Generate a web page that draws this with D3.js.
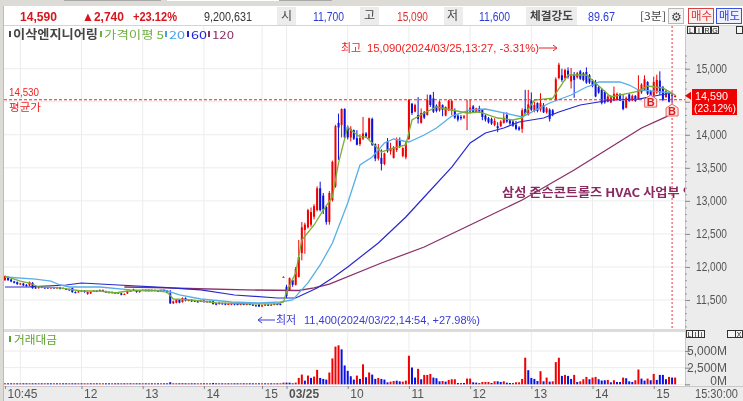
<!DOCTYPE html>
<html>
<head>
<meta charset="utf-8" />
<script src="https://cdn.jsdelivr.net/npm/d3@7"></script>
<style>
	html, body { margin: 0; padding: 0; background: #fff; overflow: hidden; }
	svg { display: block; filter: blur(0.35px); }
	text { font-family: "Liberation Sans", "Noto Sans CJK KR", sans-serif; }
	.kr { font-family: "Noto Sans CJK KR", sans-serif; }
</style>
</head>
<body>
<div id="wrapper"></div>
<script>
// candles, 3 minute bars, 03/22 10:45 to 03/25 15:18
const open = [
	11800,11850,11810,11780,11770,11740,11750,11730,11720,11760,
	11690,11680,11700,11690,11690,11680,11690,11680,11690,11680,
	11670,11660,11680,11620,11620,11630,11640,11590,11600,11630,
	11640,11650,11640,11630,11620,11620,11610,11600,11600,11590,
	11600,11640,11660,11640,11620,11650,11650,11640,11650,11640,
	11640,11640,11650,11640,11600,11450,11460,11500,11470,11530,
	11490,11500,11490,11480,11480,11490,11470,11470,11480,11450,
	11440,11450,11450,11440,11430,11450,11440,11430,11440,11430,
	11440,11430,11420,11430,11400,11420,11430,11420,11430,11440,11440,11850,
	11700,11650,11800,11730,11850,12210,12560,12600,
	12640,12760,12860,13190,13080,12910,12680,13010,13220,14180,
	14150,14390,14120,13960,14070,13950,13860,13940,14020,13950,
	14240,13860,13640,13650,13560,13900,13750,13650,13770,13920,
	13680,13660,13940,14470,14350,14300,14180,14340,14300,14600,
	14550,14440,14370,14450,14290,14370,14360,14370,14290,14270,
	14260,14330,14350,14430,14340,14400,14380,14290,14250,14240,
	14150,14130,14130,14180,14300,14220,14200,14150,14110,14090,
	14390,14300,14520,14360,14480,14380,14450,14340,14380,14370,
	14530,14860,14900,14860,14970,14810,14910,14870,14960,14930,
	14950,14900,14820,14800,14720,14680,14650,14500,14490,14520,
	14530,14610,14510,14410,14610,14520,14590,14540,14640,14670,
	14800,14660,14600,14640,14820,14720,14570,14640,14600,14570,
];
const close = [
	11860,11800,11780,11760,11740,11750,11720,11710,11770,11680,
	11680,11700,11690,11680,11680,11690,11680,11690,11670,11680,
	11660,11650,11620,11610,11630,11640,11620,11620,11620,11640,
	11630,11640,11650,11620,11610,11610,11600,11610,11580,11590,
	11630,11640,11650,11620,11640,11650,11640,11650,11640,11650,
	11630,11650,11640,11610,11450,11480,11500,11460,11530,11490,
	11500,11480,11480,11470,11490,11470,11480,11480,11440,11430,
	11460,11440,11430,11440,11450,11430,11430,11440,11430,11440,
	11430,11420,11410,11400,11420,11430,11420,11430,11440,11430,11430,11850,
	11560,11830,11730,11970,12150,12600,12640,12860,
	12830,12920,13190,12860,12870,12680,13120,13590,14130,14110,
	14390,13960,13960,14090,13940,13850,13950,14020,13970,14250,
	13850,13640,13770,13560,13720,13750,13800,13810,13920,13830,
	13800,13870,14530,14330,14450,14240,14330,14260,14530,14450,
	14350,14360,14500,14380,14420,14520,14510,14260,14230,14250,
	14280,14360,14410,14340,14400,14350,14270,14230,14190,14170,
	14210,14100,14200,14260,14200,14170,14140,14090,14080,14370,
	14320,14460,14380,14450,14360,14480,14340,14400,14240,14300,
	14840,15060,14830,14980,14880,14900,14830,14930,14850,14830,
	14790,14790,14740,14580,14640,14480,14490,14580,14580,14620,
	14620,14520,14390,14560,14510,14590,14510,14690,14760,14840,
	14620,14530,14800,14830,14640,14530,14660,14500,14590,14590,
];
const high = [
	11870,11860,11820,11790,11780,11760,11760,11740,11780,11770,
	11700,11710,11710,11700,11700,11700,11700,11700,11700,11690,
	11680,11670,11690,11630,11640,11650,11650,11630,11630,11650,
	11650,11660,11660,11640,11630,11630,11620,11620,11610,11600,
	11640,11650,11670,11650,11650,11660,11660,11660,11660,11660,
	11650,11660,11660,11650,11650,11490,11510,11510,11540,11540,
	11510,11510,11500,11490,11500,11500,11490,11490,11490,11460,
	11470,11460,11460,11450,11460,11460,11450,11450,11450,11450,
	11450,11440,11430,11440,11430,11440,11440,11440,11450,11450,11450,11860,
	11730,11840,11810,12000,12410,12680,12670,12880,
	12900,12950,13220,13290,13120,12930,13150,13610,14150,14320,
	14400,14400,14140,14130,14080,14070,14010,14270,14040,14260,
	14260,13870,13860,13780,13730,13950,13880,13830,13960,13960,
	13810,13900,14540,14480,14470,14570,14400,14360,14610,14610,
	14650,14460,14520,14460,14430,14530,14530,14400,14310,14300,
	14300,14530,14530,14450,14410,14440,14390,14310,14270,14260,
	14250,14190,14220,14340,14340,14240,14220,14210,14130,14400,
	14680,14680,14640,14500,14490,14630,14480,14420,14400,14390,
	14870,15090,15000,15000,15020,15010,14950,14950,14980,14950,
	15020,14920,14840,14830,14740,14700,14670,14600,14600,14730,
	14640,14630,14600,14580,14630,14610,14600,14900,14780,14900,
	14810,14680,14880,14910,14960,14740,14680,14660,14640,14600,
];
const low = [
	11790,11790,11770,11750,11730,11730,11710,11700,11710,11670,
	11670,11670,11680,11670,11670,11670,11670,11670,11660,11670,
	11650,11640,11610,11600,11610,11620,11610,11580,11590,11620,
	11620,11630,11630,11610,11600,11600,11590,11590,11570,11580,
	11590,11630,11640,11610,11610,11640,11630,11630,11630,11630,
	11620,11630,11630,11600,11440,11440,11450,11450,11460,11480,
	11480,11470,11470,11460,11470,11460,11460,11460,11430,11420,
	11430,11430,11420,11430,11420,11420,11420,11420,11420,11420,
	11420,11410,11400,11400,11400,11410,11410,11410,11420,11420,11420,11850,
	11530,11640,11700,11720,11840,12100,12200,12580,
	12610,12720,12840,12840,12800,12640,12640,12990,13200,13620,
	13960,13950,13930,13900,13920,13840,13830,13920,13950,13930,
	13830,13600,13610,13460,13540,13730,13700,13640,13740,13800,
	13660,13630,13920,14300,14340,14170,14170,14240,14290,14420,
	14330,14340,14350,14280,14280,14360,14300,14240,14200,14220,
	14240,14070,14320,14330,14330,14330,14220,14200,14170,14150,
	14130,14040,14120,14170,14180,14150,14120,14070,14060,14030,
	14310,14290,14360,14340,14340,14350,14330,14320,14200,14280,
	14510,14840,14800,14820,14850,14700,14560,14850,14830,14810,
	14770,14770,14720,14570,14620,14460,14470,14490,14480,14510,
	14520,14510,14370,14400,14500,14510,14500,14530,14620,14660,
	14600,14510,14580,14620,14600,14510,14560,14490,14490,14570,
];

// trading value in million won
const tradeValue = [
	70,90,80,60,70,90,80,70,60,100,
	90,70,60,80,70,90,60,70,80,60,
	70,60,100,80,70,60,80,70,90,60,
	70,80,60,70,90,60,70,60,80,70,
	90,70,60,80,70,60,90,70,60,80,
	70,60,90,110,300,120,90,110,180,80,
	70,60,80,70,60,90,70,80,200,90,
	70,60,80,70,90,60,70,60,80,70,
	60,90,70,120,80,70,60,80,70,90,
	150,250,250,250,150,250,960,1460,550,1310,
	960,1160,2170,960,810,710,1770,3890,5660,5860,
	5250,2830,2020,1210,710,1310,810,3000,1060,1770,
	1460,810,960,810,710,300,400,500,550,450,
	400,550,4290,2520,1010,2320,760,1410,1410,1560,
	1010,910,450,500,400,660,760,760,200,200,
	200,860,860,300,250,200,350,350,350,200,
	450,450,350,450,250,200,200,300,300,810,
	3990,2120,960,810,500,1970,450,1010,400,450,
	3330,3990,1260,1410,1260,810,1410,350,450,760,
	1110,760,1010,1110,760,560,610,660,300,610,
	350,350,1010,910,450,350,610,2220,860,560,
	860,610,1560,660,1410,1410,760,1110,1010,1010,
];
// 1 = red bar, 0 = blue bar
const tradeUp = [
	1,0,0,1,0,1,0,0,1,0,
	0,1,0,1,0,0,1,0,1,0,
	0,1,0,0,1,0,1,1,0,1,
	0,1,1,0,0,1,0,0,1,0,
	1,0,1,0,0,1,0,1,0,1,
	0,1,0,0,0,1,1,0,1,0,
	1,0,0,1,1,0,1,1,0,0,
	1,0,1,0,1,0,0,1,0,1,
	0,0,1,0,1,0,1,0,1,0,
	1,1,0,0,0,1,1,1,0,1,
	0,1,1,0,0,0,1,1,1,1,
	0,0,0,0,0,1,0,1,0,1,
	0,0,1,0,0,0,1,1,0,0,
	1,1,1,0,0,1,0,1,1,1,
	0,0,0,1,0,1,1,1,0,1,
	0,1,1,0,0,1,1,1,1,0,
	1,0,0,1,0,0,1,1,1,1,
	1,0,0,0,0,1,0,1,0,1,
	1,1,0,1,0,0,1,0,1,1,
	1,0,1,1,0,0,0,1,0,1,
	0,0,1,0,0,0,1,1,0,0,
	1,0,1,0,0,0,0,1,0,1,
];

// moving averages, read at the bends of each line
const ma5Index = [0,5,8,11,18,25,31,36,40,47,53,55,61,69,80,89,91,92,95,97,101,104,107,109,112,113,116,118,120,123,127,131,133,137,141,146,151,155,161,166,169,173,179,184,190,193,198,204,207,210,215,219];
const ma5 = [11860,11785,11757,11697,11682,11636,11636,11606,11636,11652,11621,11515,11500,11455,11440,11440,11470,11620,11910,12408,12635,12860,13060,13575,14120,14073,13967,13967,13876,13740,13800,13846,14224,14330,14420,14375,14330,14345,14254,14224,14254,14526,14556,14905,14905,14784,14572,14632,14662,14738,14708,14602];
const ma20Index = [0,10,15,18,21,31,41,47,52,57,64,74,83,90,94,99,103,107,112,116,120,124,127,132,137,141,146,152,157,163,169,178,185,190,192,194,201,204,207,212,218];
const ma20 = [11848,11817,11787,11727,11697,11697,11652,11636,11652,11576,11515,11470,11455,11470,11500,11758,12030,12363,12968,13543,13664,13876,13936,13891,13997,14103,14284,14375,14390,14330,14270,14481,14602,14723,14753,14799,14799,14753,14678,14662,14632];
const ma60Index = [0,8,20,25,37,53,64,75,89,95,102,107,112,122,131,137,146,152,157,163,168,176,181,188,192,198,207,214,218];
const ma60 = [11697,11700,11727,11757,11727,11686,11652,11576,11530,11530,11682,11833,12000,12363,12756,13059,13512,13876,14027,14103,14194,14254,14345,14451,14481,14526,14541,14602,14632];
const ma120Index = [39,53,60,79,96,101,106,123,137,152,169,186,208,216,217];
const ma120 = [11697,11682,11674,11652,11644,11682,11742,12060,12302,12635,13013,13467,14103,14270,14300];

// axes
const priceTicks = [11500,12000,12500,13000,13500,14000,14500,15000];
const priceMinorTicks = d3.range(11100, 15300, 100);
const valueTicks = [0,2500,5000];
const timeTickIndex = [0,25,45,65,84,92,112,132,152,172,192,212];
const timeTickLabels = ["10:45","12","13","14","15","03/25","10","11","12","13","14","15"];
const timeGridIndex = [5,25,45,65,84,92,112,132,152,172,192,212];

// fixed values from the chart
const avgPrice = 14530;
const lastPrice = 14590;
const lastIndex = 218;
const buyIndex = [211,218];
const buyPrice = [14510,14375];

const drawChart = () => {
	// 1. Dimensions
	const dimensions = {
		width: 743,
		height: 401,
		left: 4,
		plotRight: 685,
		priceTop: 26,
		priceBottom: 328,
		valueTop: 332,
		valueBottom: 386,
	};
	const red = "#f00000";
	const blue = "#0a10e0";

	// 2. Scales
	const xScale = d3.scaleLinear().domain([0, 219]).range([5, 675.14]);
	const yScale = d3.scaleLinear().domain([11500, 15000]).range([300, 68.7]);
	const vScale = d3.scaleLinear().domain([0, 5000]).range([384.3, 351]);

	const svg = d3
		.select("#wrapper")
		.append("svg")
		.attr("width", dimensions.width)
		.attr("height", dimensions.height);

	const addText = (str, x, y, opts = {}) => {
		const t = svg
			.append("text")
			.attr("x", x)
			.attr("y", y)
			.attr("font-size", opts.size || 12)
			.attr("fill", opts.color || "#333")
			.attr("font-weight", opts.weight || "normal")
			.attr("text-anchor", opts.anchor || "start")
			.text(str);
		if (opts.kr) t.attr("class", "kr");
		if (opts.len) t.attr("textLength", opts.len).attr("lengthAdjust", "spacingAndGlyphs");
		return t;
	};
	const addBox = (x, y, w, h, fill, stroke) =>
		svg
			.append("rect")
			.attr("x", x)
			.attr("y", y)
			.attr("width", w)
			.attr("height", h)
			.attr("fill", fill)
			.attr("stroke", stroke || "none");

	// 3. Window chrome
	addBox(0, 0, 743, 401, "#fff");
	addBox(0, 0, 743, 6, "#dcdbd6");
	addBox(64, 0, 97, 1, "#a8a8a8");
	addBox(167, 0, 112, 1, "#fff");
	addBox(279, 0, 53, 1, "#a8a8a8");
	addBox(0, 0, 3, 401, "#dcdbd6");
	addBox(3, 6, 1, 395, "#bcbcbc");
	addBox(4, 25, 739, 1, "#d4d4d4");
	addBox(dimensions.plotRight, 26, 58, 375, "#ececec");
	addBox(dimensions.plotRight, 26, 1, 375, "#c8c8c8");
	addBox(4, 329, 681, 3, "#dcdcdc");
	addBox(4, 386, 739, 15, "#ececec");
	addBox(4, 386, 739, 1, "#c8c8c8");

	// header row
	addText("14,590", 20, 21, { size: 13, color: "#d8141c", weight: "bold", len: 37 });
	addText("▲2,740", 82, 21, { size: 13, color: "#d8141c", weight: "bold", len: 42 });
	addText("+23.12%", 133, 21, { size: 13, color: "#d8141c", weight: "bold", len: 44 });
	addText("9,200,631", 204, 21, { size: 12, color: "#333", len: 48 });
	addBox(277, 7, 19, 18, "#ececec");
	addText("시", 281, 20, { size: 12, kr: true, color: "#444" });
	addText("11,700", 313, 21, { size: 12, color: "#2a3cd8", len: 31 });
	addBox(360, 7, 19, 18, "#ececec");
	addText("고", 364, 20, { size: 12, kr: true, color: "#444" });
	addText("15,090", 397, 21, { size: 12, color: "#e03030", len: 31 });
	addBox(444, 7, 19, 18, "#ececec");
	addText("저", 447, 20, { size: 12, kr: true, color: "#444" });
	addText("11,600", 479, 21, { size: 12, color: "#2a3cd8", len: 31 });
	addBox(526, 7, 51, 18, "#ececec");
	addText("체결강도", 530, 20, { size: 11, kr: true, color: "#444", weight: "bold", len: 43 });
	addText("89.67", 588, 21, { size: 12, color: "#2a3cd8", len: 27 });
	addText("[3분]", 640, 20, { size: 11, kr: true, color: "#444", len: 26 });
	addBox(668.5, 8.5, 15, 15, "#f4f4f4", "#b8b8b8");
	addText("⚙", 670.5, 20.5, { size: 12, color: "#444" });
	addBox(688.5, 8.5, 25, 15, "#fdf0ef", "#d84040");
	addText("매수", 691, 20, { size: 11, kr: true, color: "#e03030", len: 21 });
	addBox(716.5, 8.5, 25, 15, "#eef0fd", "#3a50e0");
	addText("매도", 719, 20, { size: 11, kr: true, color: "#3040e0", len: 21 });

	// 4. Grid
	const grid = svg.append("g").attr("stroke", "#ececec").attr("stroke-width", 1);
	grid
		.selectAll(".hp")
		.data(priceTicks)
		.join("line")
		.attr("x1", dimensions.left)
		.attr("x2", dimensions.plotRight)
		.attr("y1", (d) => yScale(d))
		.attr("y2", (d) => yScale(d));
	grid
		.selectAll(".hv")
		.data(valueTicks)
		.join("line")
		.attr("x1", dimensions.left)
		.attr("x2", dimensions.plotRight)
		.attr("y1", (d) => vScale(d))
		.attr("y2", (d) => vScale(d));
	grid
		.selectAll(".vt")
		.data(timeGridIndex)
		.join("line")
		.attr("x1", (d) => xScale(d))
		.attr("x2", (d) => xScale(d))
		.attr("y1", dimensions.priceTop)
		.attr("y2", dimensions.priceBottom);
	grid
		.selectAll(".vb")
		.data(timeGridIndex)
		.join("line")
		.attr("x1", (d) => xScale(d))
		.attr("x2", (d) => xScale(d))
		.attr("y1", dimensions.valueTop)
		.attr("y2", dimensions.valueBottom);

	// 5. Axes
	const priceAxis = d3
		.axisRight(yScale)
		.tickValues(priceTicks)
		.tickSize(5)
		.tickFormat((d) => (d === 14500 ? "" : d3.format(",")(d))); // 14,500 sits under the price tag
	const priceG = svg
		.append("g")
		.attr("transform", `translate(${dimensions.plotRight}, 0)`)
		.call(priceAxis);
	priceG.select(".domain").remove();
	priceG.selectAll("line").attr("stroke", "#888");
	priceG
		.selectAll("text")
		.filter((d) => d !== 14500)
		.attr("x", 11)
		.attr("font-size", 12)
		.attr("fill", "#555")
		.attr("textLength", 31)
		.attr("lengthAdjust", "spacingAndGlyphs")
		.attr("font-family", "Liberation Sans");

	const minorAxis = d3.axisRight(yScale).tickValues(priceMinorTicks).tickSize(2).tickFormat("");
	const minorG = svg
		.append("g")
		.attr("transform", `translate(${dimensions.plotRight}, 0)`)
		.call(minorAxis);
	minorG.select(".domain").remove();
	minorG.selectAll("line").attr("stroke", "#999");

	const valueAxis = d3
		.axisRight(vScale)
		.tickValues(valueTicks)
		.tickSize(5)
		.tickFormat((d) => `${d3.format(",")(d)}M`);
	const valueG = svg
		.append("g")
		.attr("transform", `translate(${dimensions.plotRight}, 0)`)
		.call(valueAxis);
	valueG.select(".domain").remove();
	valueG.selectAll("line").attr("stroke", "#888");
	valueG
		.selectAll("text")
		.attr("x", 42)
		.attr("text-anchor", "end")
		.attr("y", (d) => (d === 0 ? -4 : 0))
		.attr("font-size", 12)
		.attr("fill", "#555")
		.attr("font-family", "Liberation Sans");

	const timeAxis = d3
		.axisBottom(xScale)
		.tickValues(timeTickIndex)
		.tickSize(3)
		.tickFormat((d, i) => timeTickLabels[i]);
	const timeG = svg
		.append("g")
		.attr("transform", `translate(0, ${dimensions.valueBottom})`)
		.call(timeAxis);
	timeG.select(".domain").remove();
	timeG.selectAll("line").attr("stroke", "#888");
	timeG
		.selectAll("text")
		.attr("text-anchor", "start")
		.attr("x", 2)
		.attr("y", 3)
		.attr("font-size", 12)
		.attr("fill", "#555")
		.attr("font-weight", (d, i) => (timeTickLabels[i] === "03/25" ? "bold" : "normal"))
		.attr("font-family", "Liberation Sans");
	addText("15:30:00", 695, 398, { size: 12, color: "#555", len: 43 });

	// 6. Candles
	const candles = svg.append("g");
	const index = d3.range(open.length);
	const candleColor = (i) => (close[i] >= open[i] ? red : blue);
	candles
		.selectAll(".wick")
		.data(index)
		.join("line")
		.attr("x1", (i) => xScale(i))
		.attr("x2", (i) => xScale(i))
		.attr("y1", (i) => yScale(high[i]))
		.attr("y2", (i) => yScale(low[i]))
		.attr("stroke", candleColor)
		.attr("stroke-width", 1);
	candles
		.selectAll(".body")
		.data(index)
		.join("rect")
		.attr("x", (i) => xScale(i) - 1)
		.attr("width", 2)
		.attr("y", (i) => yScale(Math.max(open[i], close[i])))
		.attr("height", (i) => Math.max(1, Math.abs(yScale(open[i]) - yScale(close[i]))))
		.attr("fill", candleColor);

	// 7. Moving averages
	const maLine = (idx) =>
		d3
			.line()
			.x((d, i) => xScale(idx[i]))
			.y((d) => yScale(d));
	const maSeries = [
		{ values: ma120, idx: ma120Index, color: "#8a2f68", width: 1.3 },
		{ values: ma60, idx: ma60Index, color: "#2828d0", width: 1.2 },
		{ values: ma20, idx: ma20Index, color: "#58aee8", width: 1.3 },
		{ values: ma5, idx: ma5Index, color: "#78b030", width: 1.3 },
	];
	maSeries.forEach((s) => {
		svg
			.append("path")
			.attr("d", maLine(s.idx)(s.values))
			.attr("fill", "none")
			.attr("stroke", s.color)
			.attr("stroke-width", s.width);
	});

	// 8. Average price line and last price marker
	svg
		.append("line")
		.attr("x1", dimensions.left)
		.attr("x2", dimensions.plotRight)
		.attr("y1", yScale(avgPrice))
		.attr("y2", yScale(avgPrice))
		.attr("stroke", "#f02020")
		.attr("stroke-dasharray", "3,2");
	svg
		.append("line")
		.attr("x1", xScale(lastIndex))
		.attr("x2", xScale(lastIndex))
		.attr("y1", dimensions.priceTop)
		.attr("y2", dimensions.priceBottom)
		.attr("stroke", "#f03040")
		.attr("stroke-dasharray", "2,2");
	addText("14,530", 9, 96, { size: 11, color: "#f02020", len: 30 });
	addText("평균가", 9, 111, { size: 10, kr: true, color: "#f02020", len: 32 });

	// buy markers
	const buyG = svg
		.selectAll(".buy")
		.data(buyIndex)
		.join("g")
		.attr("transform", (d, i) => `translate(${xScale(d)}, ${yScale(buyPrice[i])})`);
	buyG
		.append("path")
		.attr("d", "M0,-6L6,-2V6H-6V-2Z")
		.attr("fill", "#fde4e4")
		.attr("stroke", "#e86060");
	buyG
		.append("text")
		.attr("text-anchor", "middle")
		.attr("y", 5)
		.attr("font-size", 11)
		.attr("font-weight", "bold")
		.attr("fill", "#d82020")
		.text("B");

	// 9. Trading value bars
	svg
		.append("g")
		.selectAll("rect")
		.data(tradeValue)
		.join("rect")
		.attr("x", (d, i) => xScale(i) - 1)
		.attr("width", 2)
		.attr("y", (d) => Math.min(vScale(d), vScale(0) - 1))
		.attr("height", (d) => Math.max(vScale(0) - vScale(d), 1))
		.attr("fill", (d, i) => (tradeUp[i] ? red : blue));

	// 10. Annotations
	addText("최고", 341, 52, { size: 11, kr: true, color: "#f02020" });
	addText("15,090(2024/03/25,13:27, -3.31%)", 367, 52, { size: 11.5, color: "#f02020", len: 172 });
	svg
		.append("path")
		.attr("d", "M539,48H557M553,45L557,48L553,51")
		.attr("fill", "none")
		.attr("stroke", "#f02020");
	addText("최저", 276, 324, { size: 11, kr: true, color: "#3a3ad8" });
	addText("11,400(2024/03/22,14:54, +27.98%)", 304, 324, { size: 11.5, color: "#3a3ad8", len: 176 });
	svg
		.append("path")
		.attr("d", "M258,320H275M262,317L258,320L262,323")
		.attr("fill", "none")
		.attr("stroke", "#3a3ad8");

	const noteClip = svg.append("clipPath").attr("id", "note-clip");
	noteClip.append("rect").attr("x", 4).attr("y", 26).attr("width", 681).attr("height", 302);
	addText("삼성 존슨콘트롤즈 HVAC 사업부 인수", 502, 197, {
		size: 12,
		kr: true,
		weight: "bold",
		color: "#8a2a60",
		len: 205,
	}).attr("clip-path", "url(#note-clip)");

	// legend
	const legend = [
		{ text: "이삭엔지니어링", x: 9, w: 85, color: "#444", weight: "bold", size: 12 },
		{ text: "가격이평 5", x: 100, w: 60, color: "#70b040", size: 11 },
		{ text: "20", x: 165, w: 16, color: "#48a0e8", size: 11 },
		{ text: "60", x: 187, w: 16, color: "#2020e0", size: 11 },
		{ text: "120", x: 208, w: 22, color: "#8a2f68", size: 11 },
	];
	legend.forEach((l) => {
		addBox(l.x, 31, 2, 6, l.color);
		addText(l.text, l.x + 4, 39, { size: l.size, kr: true, color: l.color, weight: l.weight, len: l.w });
	});
	addBox(9, 336, 2, 6, "#60a030");
	addText("거래대금", 14, 344, { size: 11, kr: true, color: "#60a030", len: 43 });

	// small pane buttons
	["L", "I", "R", "G"].forEach((c, i) => {
		addBox(687.5 + i * 8, 26.5, 7, 7, "#f4f4f4", "#333");
		addText(c, 691 + i * 8, 33, { size: 7, color: "#222", anchor: "middle" });
	});
	addBox(736.5, 26.5, 6, 7, "#f4f4f4", "#333");
	["L", "I", "I"].forEach((c, i) => {
		addBox(686.5 + i * 6, 330.5, 6, 7, "#f4f4f4", "#333");
		addText(c, 689.5 + i * 6, 337, { size: 7, color: "#222", anchor: "middle" });
	});
	addBox(727.5, 330.5, 8, 7, "#f4f4f4", "#333");
	addBox(735.5, 330.5, 7, 7, "#f4f4f4", "#333");
	addText("X", 739, 337, { size: 7, color: "#222", anchor: "middle" });

	// last price tag
	addBox(692, 89, 45, 26, "#f00000");
	svg
		.append("path")
		.attr("d", `M685,${yScale(lastPrice)}l6,-4v8Z`)
		.attr("fill", "#f00000");
	addText("14,590", 695, 100, { size: 11, color: "#fff", len: 33 });
	addText("(23.12%)", 694, 112, { size: 10.5, color: "#fff", len: 42 });
};

drawChart();
</script>
</body>
</html>
